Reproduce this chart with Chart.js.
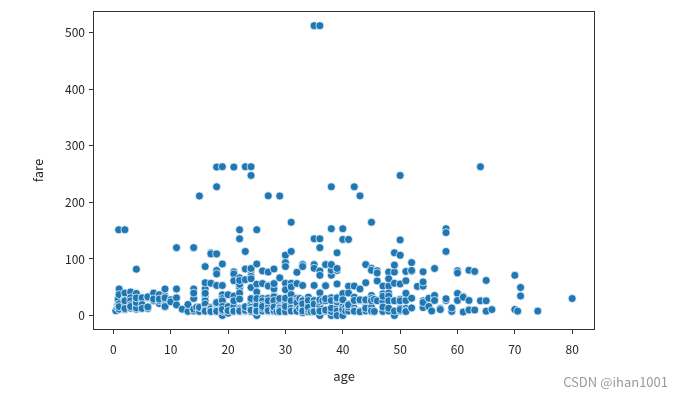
<!DOCTYPE html>
<html>
<head>
<meta charset="utf-8">
<script src="https://cdn.jsdelivr.net/npm/chart.js@4.4.1/dist/chart.umd.min.js"></script>
<style>
  html, body { margin: 0; padding: 0; background: #fff; }
  canvas { display: block; }
</style>
</head>
<body>
<canvas id="chScatter" width="684" height="396" style="width:684px;height:396px"></canvas>
<script>
/* titanic age vs fare scatter */

// tick labels
var xTicks = [0, 10, 20, 30, 40, 50, 60, 70, 80];
var yTicks = [0, 100, 200, 300, 400, 500];

// passenger ages, and the fares paid at each age (same order)
var ages = [
  0.42, 0.67, 0.75, 0.83, 0.92, 1, 2, 3, 4, 5,
  6, 7, 8, 9, 10, 11, 12, 13, 14, 14.5,
  15, 16, 17, 18, 19, 20, 21, 22, 23, 24,
  25, 26, 27, 28, 28.5, 29, 30, 31, 32, 32.5,
  33, 34, 34.5, 35, 36, 36.5, 37, 38, 39, 40,
  40.5, 41, 42, 43, 44, 45, 45.5, 46, 47, 48,
  49, 50, 51, 52, 53, 54, 55, 55.5, 56, 57,
  58, 59, 60, 61, 62, 63, 64, 65, 66, 70,
  70.5, 71, 74, 80
];
var fares = [
  [8.52],                                                   // 0.42
  [14.5],                                                   // 0.67
  [19.26, 19.26],                                           // 0.75
  [29, 18.75],                                              // 0.83
  [151.55],                                                 // 0.92
  [39.69, 11.13, 39, 46.9, 20.58, 37, 15.74],               // 1
  [21.08, 29.13, 31.28, 151.55, 10.46, 27.9, 39.69, 26, 12.29], // 2
  [41.58, 13, 31.39, 26, 18.75, 15.9],                      // 3
  [16.7, 27.9, 29.13, 22.03, 81.86, 11.13, 13.42, 39, 23, 31.28], // 4
  [27.75, 31.39, 19.26, 12.48],                             // 5
  [31.28, 12.48, 33, 15.25],                                // 6
  [39.69, 26.25, 29.13],                                    // 7
  [21.08, 31.39, 26.25, 36.75, 29.13],                      // 8
  [31.39, 20.53, 34.38, 46.9, 27.9, 15.25, 31.28, 15.9],    // 9
  [27.9, 24.15],                                            // 10
  [46.9, 120, 31.28, 18.79],                                // 11
  [11.24],                                                  // 12
  [7.23, 19.5],                                             // 13
  [30.07, 7.85, 11.24, 46.9, 120, 39.69],                   // 14
  [14.45],                                                  // 14.5
  [8.03, 211.34, 7.23, 14.45, 14.45],                       // 15
  [46.9, 34.38, 9.22, 7.73, 7.85, 26, 10.5, 18, 39.4, 57.98, 86.5, 20.25, 8.05, 9.5, 7.75], // 16
  [7.93, 14.46, 8.66, 10.5, 7.23, 110.88, 57, 108.9, 12, 7.13, 7.05], // 17
  [18, 17.8, 11.5, 7.85, 262.38, 227.53, 108.9, 79.65, 7.75, 6.5, 7.78, 73.5,
   9.84, 8.05, 14.45, 7.8, 13, 20.21, 9.35, 7.23, 53.1, 23, 7.5], // 18
  [263, 7.88, 8.16, 26.28, 6.75, 36.75, 7.89, 13, 91.08, 7.65, 10.17, 8.05,
   0, 53.1, 30, 14.5, 7.85, 26, 7.78, 16.1, 10.5],          // 19
  [8.05, 7.85, 9.83, 7.05, 9.23, 7.93, 9.5, 7.23, 4.01, 36.75, 15.74, 8.66], // 20
  [8.05, 7.8, 10.5, 73.5, 7.93, 77.29, 7.65, 73.5, 8.43, 262.38, 34.38, 11.5,
   61.38, 7.73, 9.83, 16.1, 7.75, 26],                      // 21
  [7.25, 7.23, 9, 8.05, 7.75, 66.6, 151.55, 135.63, 7.13, 10.52, 49.5, 7.8,
   55, 39.69, 9.35, 13, 7.52, 61.98, 10.5, 7.9, 29],        // 22
  [263, 63.36, 15.05, 7.85, 113.28, 13, 10.5, 7.55, 82.27, 7.93, 8.05, 13.79, 9.23, 15.5], // 23
  [8.05, 247.52, 7.14, 79.2, 15.85, 263, 83.16, 69.3, 49.5, 26, 13, 16.1,
   7.5, 8.85, 7.8, 19.5, 7.05, 14.5, 65, 10.5, 9.5, 30],    // 24
  [7.65, 13, 151.55, 7.05, 26, 7.78, 0, 91.08, 55.44, 7.23, 41.58, 10.5, 7.89, 17.8, 30, 7.93], // 25
  [7.93, 8.66, 14.45, 20.58, 7.78, 56.5, 78.85, 7.89, 30, 25.93, 18.79, 7.85, 8.05, 13, 16.1], // 26
  [11.13, 21, 7.8, 211.5, 53.1, 76.73, 30.5, 7.79, 13, 10.5, 6.98, 14.45, 52, 7.93, 26, 8.66], // 27
  [35.5, 82.17, 7.9, 26, 13.5, 47.1, 56.5, 9.5, 22.53, 7.25, 10.5, 7.78, 33, 26.55, 13, 8.05, 15.1], // 28
  [7.23],                                                   // 28.5
  [26, 10.5, 9.5, 8.05, 21, 211.34, 66.6, 7.78, 30, 15.05, 7.93, 13, 9.48, 7.05], // 29
  [12.48, 8.05, 13, 106.43, 7.23, 93.5, 31, 56.93, 86.5, 12.35, 24.15, 7.9,
   9.5, 7.63, 21, 8.66, 45.5, 6.95, 30.5, 16.1],            // 30
  [18, 164.87, 113.28, 52, 57, 7.93, 20.53, 50.5, 37, 7.75, 26.25, 10.5, 8.05, 13, 7.85], // 31
  [10.5, 56.5, 7.93, 15.5, 30.5, 8.05, 76.29, 13, 7.85, 26, 7.75, 7.58, 22.53], // 32
  [30.07, 13],                                              // 32.5
  [15.85, 8.65, 7.9, 90, 86.5, 53.1, 27.75, 26, 12.28, 9.5, 7.78, 5, 20.53, 8.05], // 33
  [13, 23, 26, 21, 8.05, 32.5, 6.5, 26.55, 10.5, 14.4],     // 34
  [6.44],                                                   // 34.5
  [53.1, 8.05, 26, 512.33, 512.33, 135.63, 90, 83.48, 26.29, 21, 7.05, 26.55, 10.5, 7.13, 20.25], // 35
  [0, 26.55, 120, 512.33, 135.63, 78.85, 10.5, 13, 40.13, 71, 7.5, 15.55,
   12.18, 17.4, 26.39, 24.15, 27.75, 7.9],                  // 36
  [26],                                                     // 36.5
  [53.1, 7.93, 26, 7.75, 29.7, 90, 52.55, 9.59],            // 37
  [71.28, 31.39, 80, 7.9, 153.46, 227.53, 0, 7.05, 8.66, 7.23, 90, 13, 26.55], // 38
  [31.28, 26, 110.88, 13, 24.15, 55.9, 79.65, 83.16, 7.93, 0, 29.13, 31.27], // 39
  [27.72, 9.48, 15.75, 153.46, 134.5, 13, 31, 39, 7.9, 0, 15.5, 10.5, 27.9], // 40
  [14.5, 7.75],                                             // 40.5
  [134.5, 20.21, 14.11, 51.86, 7.85, 15.05, 39.69, 18.9],   // 41
  [52, 13, 7.55, 26.29, 227.53, 8.66, 7.65, 32.5, 26.55],   // 42
  [211.5, 26.25, 8.05, 46.9, 6.45, 27.72],                  // 43
  [16.1, 90, 26, 57.98, 7.93, 8.05, 13, 27.72],             // 44
  [83.48, 27.9, 164.87, 6.98, 26.55, 13.5, 35.5, 14.45, 30, 26.25, 7.75, 8.05, 80], // 45
  [7.23, 28.5],                                             // 45.5
  [61.18, 79.2, 26, 75.24],                                 // 46
  [52, 14.5, 38.5, 9, 25.59, 34.02, 7.25, 15],              // 47
  [76.73, 52, 7.85, 39.6, 34.38, 65, 25.93, 13],            // 48
  [76.73, 110.88, 89.1, 0, 56.93, 25.93, 26, 7.9],          // 49
  [28.71, 133.65, 106.43, 247.52, 13, 8.05, 10.5, 55.9, 26], // 50
  [12.53, 61.38, 8.05, 77.96, 26.55, 7.05, 39.4],           // 51
  [78.27, 13.5, 93.5, 79.65, 30.5],                         // 52
  [51.48],                                                  // 53
  [51.86, 77.29, 26, 14, 59.4, 23],                         // 54
  [16, 30.5],                                               // 55
  [8.05],                                                   // 55.5
  [30.7, 35.5, 26.55, 83.16],                               // 56
  [12.35, 10.5],                                            // 57
  [26.55, 153.46, 146.52, 113.28, 29.7],                    // 58
  [7.25, 13.5],                                             // 59
  [79.2, 75.25, 39, 26.55],                                 // 60
  [33.5, 32.32, 6.24],                                      // 61
  [80, 10.5, 26.55, 9.69],                                  // 62
  [77.96, 9.59],                                            // 63
  [263, 26],                                                // 64
  [61.98, 26, 7.75],                                        // 65
  [10.5],                                                   // 66
  [71, 10.5],                                               // 70
  [7.75],                                                   // 70.5
  [34.65, 49.5],                                            // 71
  [7.78],                                                   // 74
  [30]                                                      // 80
];

var points = [];
ages.forEach(function (a, i) {
  fares[i].forEach(function (f) { points.push({x: a, y: f}); });
});

var axisColor = '#333333';
var tickFont = {family: "'Noto Sans CJK SC', 'DejaVu Sans', sans-serif", size: 12};

// box round the plot area + watermark
var framePlugin = {
  id: 'frame',
  afterDraw: function (chart) {
    var c = chart.ctx, a = chart.chartArea;
    c.save();
    c.strokeStyle = axisColor;
    c.lineWidth = 1;
    c.strokeRect(Math.round(a.left) + 0.5, Math.round(a.top) + 0.5,
      Math.round(a.right - a.left) - 1, Math.round(a.bottom - a.top) - 1);
    c.fillStyle = '#9a9a9a';
    c.font = "13px 'Noto Sans CJK SC', 'DejaVu Sans', sans-serif";
    c.textAlign = 'right';
    c.textBaseline = 'middle';
    c.fillText('CSDN @ihan1001', 668, 382);
    c.restore();
  }
};

new Chart(document.getElementById('chScatter'), {
  type: 'scatter',
  data: {
    datasets: [{
      data: points,
      backgroundColor: '#1f77b4',
      borderColor: '#ffffff',
      borderWidth: 0.7,
      pointRadius: 4,
      pointHoverRadius: 4
    }]
  },
  options: {
    responsive: false,
    animation: false,
    events: [],
    layout: {padding: {left: 0, right: 89, top: 3, bottom: 0}},
    plugins: {legend: {display: false}, tooltip: {enabled: false}},
    scales: {
      x: {
        type: 'linear',
        min: -3.56,
        max: 83.98,
        afterBuildTicks: function (s) { s.ticks = xTicks.map(function (v) { return {value: v}; }); },
        afterFit: function (s) { s.height = 66; },
        border: {display: false},
        grid: {drawOnChartArea: false, drawTicks: true, tickLength: 4, color: axisColor},
        ticks: {color: '#262626', font: tickFont, padding: 8, maxRotation: 0},
        title: {display: true, text: 'age', color: '#262626', font: {family: tickFont.family, size: 13}, padding: {top: 0, bottom: 12}}
      },
      y: {
        type: 'linear',
        min: -25.6,
        max: 537.9,
        afterBuildTicks: function (s) { s.ticks = yTicks.map(function (v) { return {value: v}; }); },
        afterFit: function (s) { s.width = 93; },
        border: {display: false},
        grid: {drawOnChartArea: false, drawTicks: true, tickLength: 4, color: axisColor},
        ticks: {color: '#262626', font: tickFont, padding: 4},
        title: {display: true, text: 'fare', color: '#262626', font: {family: tickFont.family, size: 13}, padding: {top: 30, bottom: 0}}
      }
    }
  },
  plugins: [framePlugin]
});
</script>
</body>
</html>
